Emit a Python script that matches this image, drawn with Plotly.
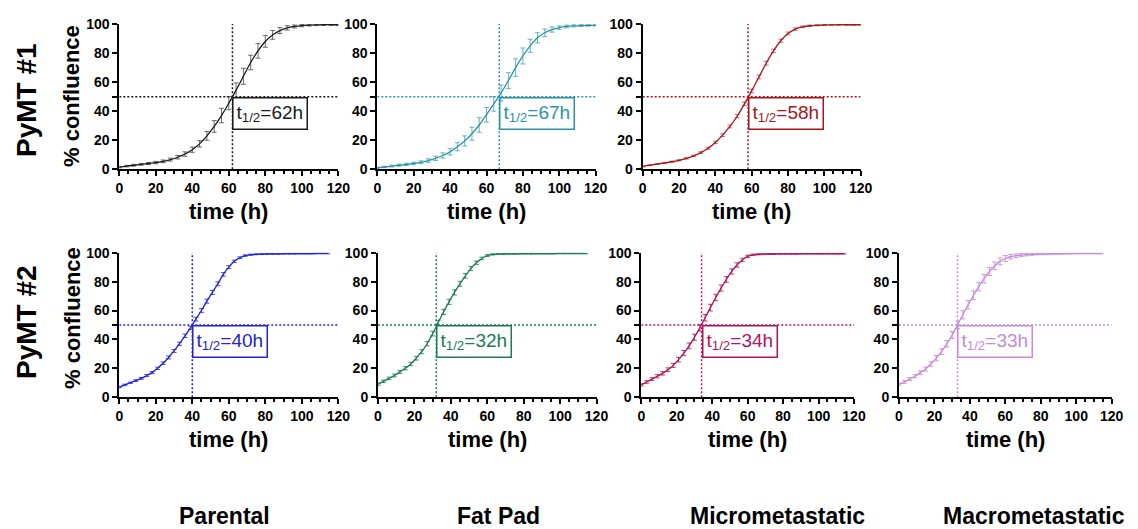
import plotly.graph_objects as go

W, H = 1138, 529
FONT = "Liberation Sans, Arial, sans-serif"

# ---------------- data ----------------
time_top = list(range(0, 121, 4))
time_bot = list(range(0, 115, 3))

parental1_mean = [1.5, 2.2, 2.8, 3.4, 4.0, 4.6, 5.5, 6.7, 8.3, 10.5, 13.5, 17.5, 23, 29.5, 37, 45.5,
                  54.5, 64, 73.5, 81.5, 88, 92.5, 95.5, 97.3, 98.3, 98.9, 99.2, 99.4, 99.5, 99.5, 99.5]
parental1_sd = [0.5, 0.5, 0.6, 0.6, 0.7, 0.8, 0.9, 1.0, 1.2, 1.5, 1.8, 2.2, 3.0, 4.0, 5.0, 4.5,
                5.0, 5.5, 5.0, 5.0, 4.0, 3.0, 2.0, 1.5, 1.0, 0.8, 0.6, 0.5, 0.5, 0.4, 0.4]

fatpad1_mean = [1.0, 1.6, 2.2, 2.8, 3.4, 4.0, 4.8, 6.0, 7.5, 9.5, 12.0, 15.5, 19.5, 24.5, 30.5, 37.5,
                45, 52.5, 61, 70, 78, 85, 90.5, 94, 96.2, 97.5, 98.3, 98.7, 98.9, 99.0, 99.1]
fatpad1_sd = [0.5, 0.5, 0.6, 0.7, 0.8, 0.9, 1.0, 1.2, 1.5, 1.8, 2.2, 2.8, 3.5, 4.5, 5.0, 5.0,
              5.0, 5.5, 5.5, 6.0, 5.5, 4.5, 3.5, 2.5, 1.8, 1.2, 0.9, 0.7, 0.6, 0.5, 0.5]

micro1_mean = [2.0, 2.8, 3.6, 4.4, 5.2, 6.2, 7.5, 9.2, 11.5, 14.5, 18.5, 23.5, 29.5, 36.5, 45, 54,
               63.5, 73, 81.5, 88.5, 93.5, 96.5, 98, 98.8, 99.1, 99.3, 99.4, 99.5, 99.5, 99.5, 99.5]
micro1_sd = [0.3, 0.3, 0.3, 0.4, 0.4, 0.4, 0.5, 0.5, 0.6, 0.7, 0.8, 0.9, 1.0, 1.1, 1.2, 1.2,
             1.3, 1.3, 1.2, 1.1, 1.0, 0.8, 0.6, 0.5, 0.4, 0.3, 0.3, 0.3, 0.3, 0.3, 0.3]

parental2_mean = [7, 8.5, 10, 11.5, 13, 15, 17, 20, 23.5, 27.5, 32, 37, 42.5, 48, 54, 60, 66.5, 72.5,
                  78.5, 85, 90, 94, 96.5, 98, 98.6, 98.9, 99, 99.1, 99.2, 99.2, 99.3, 99.3, 99.3,
                  99.4, 99.4, 99.4, 99.5, 99.5, 99.5]
parental2_sd = [0.5, 0.5, 0.5, 0.6, 0.6, 0.7, 0.7, 0.8, 0.9, 1.0, 1.0, 1.1, 1.2, 1.2, 1.3, 1.3, 1.4,
                1.4, 1.3, 1.2, 1.0, 0.8, 0.6, 0.5, 0.4, 0.3, 0.3, 0.3, 0.3, 0.3, 0.3, 0.3, 0.3, 0.3,
                0.3, 0.3, 0.3, 0.3, 0.3]

fatpad2_mean = [9, 11, 13, 15, 17.5, 20, 23, 27, 31.5, 37, 44, 51.5, 59, 66, 72.5, 78.5, 84, 89, 93,
                96, 98, 98.8, 99, 99.1, 99.2, 99.2, 99.3, 99.3, 99.3, 99.4, 99.4, 99.4, 99.4, 99.5,
                99.5, 99.5, 99.5, 99.5, 99.5]
fatpad2_sd = [0.8, 0.8, 0.9, 1.0, 1.0, 1.1, 1.2, 1.3, 1.4, 1.5, 1.6, 1.7, 1.8, 1.8, 1.8, 1.7, 1.6,
              1.4, 1.2, 0.9, 0.6, 0.4, 0.3, 0.3, 0.3, 0.3, 0.3, 0.3, 0.3, 0.3, 0.3, 0.3, 0.3, 0.3,
              0.3, 0.3, 0.3, 0.3, 0.3]

micro2_mean = [8.5, 10.5, 12.5, 14.5, 16.5, 19, 22, 26, 30.5, 35.5, 41.5, 48, 55, 62, 69, 75.5, 81.5,
               87, 91.5, 95, 97.5, 98.5, 98.9, 99, 99.1, 99.1, 99.2, 99.2, 99.2, 99.2, 99.3, 99.3,
               99.3, 99.3, 99.3, 99.3, 99.3, 99.3, 99.3]
micro2_sd = [0.8, 0.9, 1.0, 1.1, 1.2, 1.3, 1.4, 1.6, 1.8, 2.0, 2.1, 2.2, 2.3, 2.3, 2.2, 2.1, 2.0,
             1.8, 1.5, 1.2, 0.8, 0.5, 0.4, 0.3, 0.3, 0.3, 0.3, 0.3, 0.3, 0.3, 0.3, 0.3, 0.3, 0.3,
             0.3, 0.3, 0.3, 0.3, 0.3]

macro2_mean = [9, 10.5, 12.5, 14.5, 17, 19.5, 23, 27, 31.5, 37, 43, 50, 57, 64, 70.5, 76.5, 82, 87,
               91, 94, 96, 97.2, 97.9, 98.3, 98.6, 98.8, 99, 99.1, 99.2, 99.3, 99.3, 99.4, 99.4,
               99.5, 99.5, 99.5, 99.5, 99.5, 99.5]
macro2_sd = [0.8, 0.9, 1.0, 1.1, 1.2, 1.4, 1.6, 1.8, 2.0, 2.2, 2.4, 2.6, 2.8, 3.0, 3.0, 3.0, 3.0,
             2.8, 2.6, 2.4, 2.0, 1.6, 1.3, 1.0, 0.8, 0.6, 0.5, 0.5, 0.5, 0.4, 0.4, 0.4, 0.3, 0.3,
             0.3, 0.3, 0.3, 0.3, 0.3]

t_half = [62, 67, 58, 40, 32, 34, 33]
row_labels = ["PyMT #1", "PyMT #2"]
col_labels = ["Parental", "Fat Pad", "Micrometastatic", "Macrometastatic"]
y_ticks = [0, 20, 40, 50, 60, 80, 100]
y_ticktext = ["0", "20", "40", "", "60", "80", "100"]


def px_x(p):
    return p / W


def px_y(p):
    return 1 - p / H


# ---------------- panel layout (page pixels) ----------------
panels = [
    # x0, x1, ytop, ybot, t, mean, sd, color, errcolor
    (119.3, 338.3, 24, 169.3, time_top, parental1_mean, parental1_sd, "#1a1a1a", "rgba(60,60,60,0.75)"),
    (377.3, 595.7, 24, 169.3, time_top, fatpad1_mean, fatpad1_sd, "#2b93a6", "rgba(43,147,166,0.7)"),
    (642.7, 860.7, 24, 169.3, time_top, micro1_mean, micro1_sd, "#a3161c", "rgba(163,22,28,0.6)"),
    (119.3, 338.3, 252.7, 397.2, time_bot, parental2_mean, parental2_sd, "#2323d0", "rgba(35,35,208,0.8)"),
    (378.0, 596.5, 252.7, 397.2, time_bot, fatpad2_mean, fatpad2_sd, "#1b7a57", "rgba(27,122,87,0.8)"),
    (641.3, 854.0, 252.7, 397.2, time_bot, micro2_mean, micro2_sd, "#b0145a", "rgba(176,20,90,0.8)"),
    (899.0, 1111.7, 252.7, 397.2, time_bot, macro2_mean, macro2_sd, "#c48bd6", "rgba(196,139,214,0.85)"),
]

fig = go.Figure()
layout = dict(width=W, height=H, margin=dict(l=0, r=0, t=0, b=0, autoexpand=False),
              paper_bgcolor="white", plot_bgcolor="white", showlegend=False,
              font=dict(family=FONT, color="black"))
shapes, annotations = [], []
tickfont = dict(family=FONT, size=14, color="black", weight="bold")

for i, (x0, x1, yt, yb, t, m, sd, col, ecol) in enumerate(panels):
    n = i + 1
    xs = "x" if n == 1 else f"x{n}"
    ys = "y" if n == 1 else f"y{n}"
    xk = "xaxis" if n == 1 else f"xaxis{n}"
    yk = "yaxis" if n == 1 else f"yaxis{n}"
    layout[xk] = dict(domain=[px_x(x0), px_x(x1)], range=[0, 120], anchor=ys, automargin=False,
                      showline=True, linecolor="black", linewidth=2,
                      ticks="outside", tickmode="linear", tick0=0, dtick=20,
                      ticklen=5, tickwidth=2, tickcolor="black",
                      minor=dict(dtick=5, ticks="outside", ticklen=3, tickwidth=1.5, tickcolor="black"),
                      showgrid=False, zeroline=False, tickfont=tickfont, fixedrange=True)
    layout[yk] = dict(domain=[px_y(yb), px_y(yt)], range=[0, 100], anchor=xs, automargin=False,
                      showline=True, linecolor="black", linewidth=2,
                      ticks="outside", tickmode="array", tickvals=y_ticks, ticktext=y_ticktext,
                      ticklen=5, tickwidth=2, tickcolor="black",
                      showgrid=False, zeroline=False, tickfont=tickfont, fixedrange=True)

    fig.add_trace(go.Scatter(
        x=t, y=m, mode="lines", xaxis=xs, yaxis=ys, cliponaxis=False,
        line=dict(color=col, width=1.3, shape="spline"),
        error_y=dict(type="data", array=sd, color=ecol, thickness=1, width=2.5),
        showlegend=False, hoverinfo="skip"))

    th = t_half[i]
    shapes.append(dict(type="line", xref=xs, yref=ys, x0=0, x1=120, y0=50, y1=50,
                       line=dict(color=col, width=1.5, dash="2px,2px")))
    shapes.append(dict(type="line", xref=xs, yref=ys, x0=th, x1=th, y0=0, y1=100,
                       line=dict(color=col, width=1.5, dash="2px,2px")))
    annotations.append(dict(x=th, y=50, xref=xs, yref=ys, xanchor="left", yanchor="top",
                            text=f"t<sub>1/2</sub>={th}h", showarrow=False,
                            font=dict(family=FONT, size=19, color=col),
                            bordercolor=col, borderwidth=1.5, borderpad=3,
                            bgcolor="rgba(255,255,255,0)"))
    # x axis title
    annotations.append(dict(x=px_x((x0 + x1) / 2), y=px_y(yb + 42), xref="paper", yref="paper",
                            xanchor="center", yanchor="middle", text="time (h)", showarrow=False,
                            font=dict(family=FONT, size=22, color="black", weight="bold")))

# row titles and y axis titles
for label, yc in zip(row_labels, [100, 322]):
    annotations.append(dict(x=px_x(26), y=px_y(yc), xref="paper", yref="paper",
                            xanchor="center", yanchor="middle", text=label, textangle=-90,
                            showarrow=False,
                            font=dict(family=FONT, size=28, color="black", weight="bold")))
    annotations.append(dict(x=px_x(72), y=px_y(yc - 4), xref="paper", yref="paper",
                            xanchor="center", yanchor="middle", text="% confluence", textangle=-90,
                            showarrow=False,
                            font=dict(family=FONT, size=22, color="black", weight="bold")))

# column labels
for label, xc in zip(col_labels, [224, 498, 777, 1034]):
    annotations.append(dict(x=px_x(xc), y=px_y(516), xref="paper", yref="paper",
                            xanchor="center", yanchor="middle", text=label, showarrow=False,
                            font=dict(family=FONT, size=23, color="black", weight="bold")))

layout["shapes"] = shapes
layout["annotations"] = annotations
fig.update_layout(**layout)
fig.write_html("out.html")
